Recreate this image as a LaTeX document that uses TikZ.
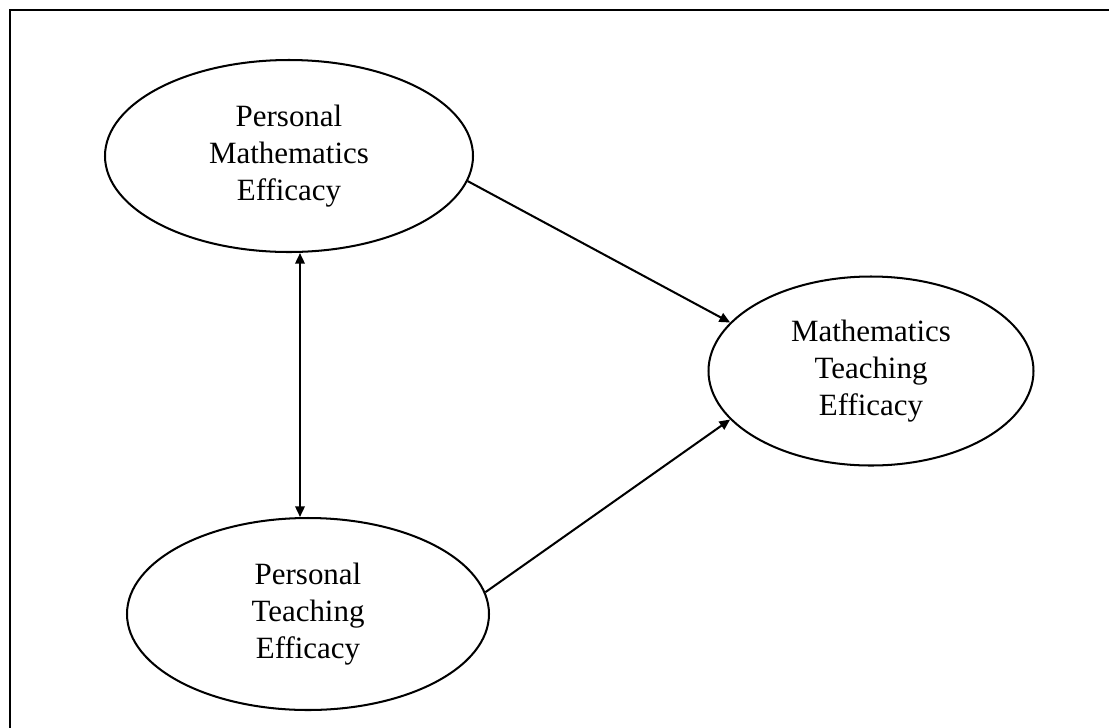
\documentclass[tikz,border=0pt]{standalone}
\usepackage{fontspec}
\setmainfont{Liberation Serif}
\usetikzlibrary{arrows.meta,shapes.geometric}

\tikzset{
  factor/.style={draw,ellipse,line width=0.85pt,inner sep=0pt,align=center,
    font=\fontsize{13}{15.5}\selectfont},
  path/.style={line width=0.85pt,-{Triangle[length=4.5pt,width=4pt]}}
}

\begin{document}
\begin{tikzpicture}[x=0.42pt,y=-0.42pt]
  \useasboundingbox (0,0) rectangle (1109,727);
  \clip (0,0) rectangle (1109,727);
  \draw [line width=0.85pt] (10,10) rectangle (1130,750);

  % latent factors
  \node [factor,minimum width=368*0.42pt,minimum height=192*0.42pt] (pme) at (289,156) {Personal\\Mathematics\\Efficacy};
  \node [factor,minimum width=362*0.42pt,minimum height=192*0.42pt] (pte) at (308,614) {Personal\\Teaching\\Efficacy};
  \node [factor,minimum width=325*0.42pt,minimum height=189*0.42pt] (mte) at (871,371) {Mathematics\\Teaching\\Efficacy};

  % paths
  \coordinate (vx) at (300,0);
  \draw [path,{Triangle[length=4.5pt,width=4pt]}-{Triangle[length=4.5pt,width=4pt]}] (pme.south -| vx) -- (pte.north -| vx);
  \draw [path] (pme.-8) -- (mte.161);
  \draw [path] (pte.7) -- (mte.199);
\end{tikzpicture}
\end{document}
